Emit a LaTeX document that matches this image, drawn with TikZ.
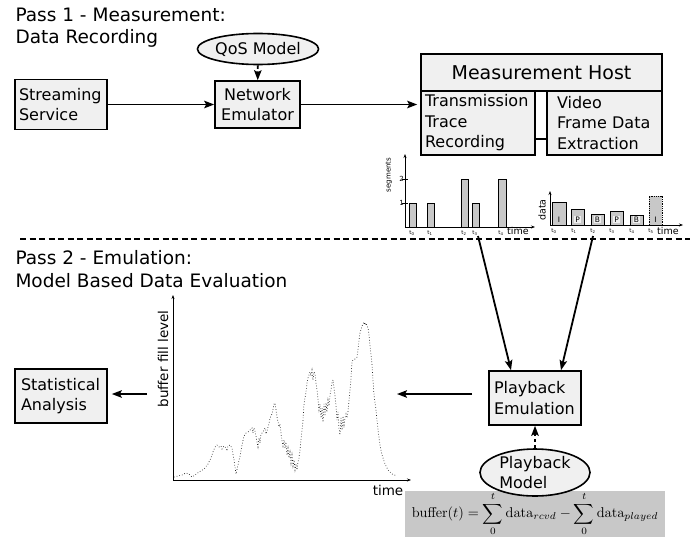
\documentclass[tikz,border=0pt]{standalone}
\usepackage[no-math]{fontspec}
\setmainfont{DejaVu Sans}
\usetikzlibrary{arrows.meta,shapes.geometric}
\definecolor{boxfill}{HTML}{F0F0F0}
\definecolor{barfill}{HTML}{C8C8C8}
\begin{document}
\begin{tikzpicture}[x=1pt,y=-1pt,
  box/.style={draw, line width=1.6pt, fill=boxfill, inner ysep=0pt, align=left,
    font=\fontsize{16}{20.5}\selectfont},
  oval/.style={draw, ellipse, line width=1.6pt, fill=boxfill, inner sep=0pt, align=left,
    font=\fontsize{16}{20.5}\selectfont},
  arr/.style={line width=1.8pt, -{Stealth[length=10pt,width=7.5pt,inset=2pt]}},
  dasharr/.style={arr, dash pattern=on 3.5pt off 2.5pt},
  title/.style={anchor=base west, font=\fontsize{18.5}{22}\selectfont},
  bar/.style={draw, line width=0.8pt, fill=barfill},
  ax/.style={line width=0.8pt, -{Stealth[length=4pt,width=3pt]}},
  tick/.style={font=\fontsize{5.5}{6}\selectfont, inner sep=0pt},
  frm/.style={font=\fontsize{7.5}{8}\selectfont, inner sep=0.8pt},
]
\useasboundingbox (0,0) rectangle (700,538);

% ---------- pass 1: measurement ----------
\node[title] (t1a) at (12,21) {Pass 1 - Measurement:};
\node[title] (t1b) at (12,43) {Data Recording};

\node[box, text width=84pt, inner xsep=4pt, minimum height=50pt] (ss) at (61,104.5)
  {Streaming\\Service};
\node[box, align=center, text width=79pt, inner xsep=3pt, minimum height=47pt] (ne) at (257.5,104.5)
  {Network\\Emulator};
\node[oval, minimum width=114pt, minimum height=31pt] (qos) at (258,49) {QoS Model};

\node[draw, line width=1.3pt, fill=boxfill, minimum width=241pt, minimum height=37pt,
  inner sep=0pt, font=\fontsize{19}{22}\selectfont] (mh) at (541.5,72.5) {Measurement Host};
\node[box, text width=106pt, inner xsep=4pt, minimum height=64pt] (tr) at (478,123)
  {Transmission\\Trace\\Recording};
\node[box, text width=95pt, inner xsep=10pt, minimum height=64pt] (vf) at (604.5,123)
  {Video\\Frame Data\\Extraction};
\draw[line width=1.6pt] ([yshift=-16pt]tr.east) -- ([yshift=-16pt]vf.west);

\draw[arr] (ss) -- (ne);
\draw[dasharr] (qos) -- (ne);
\draw[arr] (ne.east) -- ([xshift=-3pt]ne.east -| tr.west);

% segments per time slot
\draw[ax] (405,227) -- (405,154);
\draw[ax] (405,227) -- (535,227);
\draw[line width=0.6pt] (402,179) -- (408,179) (402,203) -- (408,203);
\node[tick, anchor=east, font=\fontsize{7}{7}\selectfont] at (404,179) {2};
\node[tick, anchor=east, font=\fontsize{7}{7}\selectfont] at (404,203) {1};
\node[rotate=90, inner sep=0pt, font=\fontsize{7}{7}\selectfont] at (389,175) {segments};
\draw[bar] (409,227) rectangle (416,203);
\draw[bar] (427,227) rectangle (434,203);
\draw[bar] (461,227) rectangle (468,179);
\draw[bar] (472,227) rectangle (479,203);
\draw[bar] (498,227) rectangle (506,179);
\foreach \x/\i in {412/0,430/1,464/2,475/3,501/4}
  \node[tick] at (\x,233) {t\textsubscript{\i}};
\node[anchor=west, inner sep=0pt, font=\fontsize{9.5}{10}\selectfont] at (507,231) {time};

% frame data per time slot
\draw[ax] (550,225) -- (550,191);
\draw[ax] (550,225) -- (683,225);
\node[rotate=90, inner sep=0pt, font=\fontsize{9.5}{10}\selectfont] at (542,210) {data};
\draw[bar] (552,225) rectangle (566,202);
\draw[bar] (571,225) rectangle (584,209);
\draw[bar] (591,225) rectangle (604,214);
\draw[bar] (610,225) rectangle (623,211);
\draw[bar] (630,225) rectangle (643,215);
\draw[bar, densely dotted] (649,225) rectangle (662,196);
\node[frm] at (559,219.5) {I};
\node[frm, fill=boxfill] at (577.5,219.5) {P};
\node[frm, fill=boxfill] at (597.5,219.5) {B};
\node[frm, fill=boxfill] at (616.5,219.5) {P};
\node[frm, fill=boxfill] at (636.5,219.5) {B};
\node[frm] at (655.5,219.5) {I};
\foreach \x/\i in {554/0,574/1,593/2,612/3,632/4,651/5}
  \node[tick] at (\x,231) {t\textsubscript{\i}};
\node[anchor=west, inner sep=0pt, font=\fontsize{9.5}{10}\selectfont] at (657,231) {time};

% separator between the two passes
\coordinate (sepL) at (20,239);
\coordinate (sepR) at (690,239);
\draw[line width=1.8pt, dash pattern=on 6pt off 3.5pt] (sepL) -- (sepR);

% ---------- pass 2: emulation ----------
\node[title] (t2a) at (12,264) {Pass 2 - Emulation:};
\node[title] (t2b) at (12,287) {Model Based Data Evaluation};

\node[box, text width=82pt, inner xsep=5pt, minimum height=54pt] (pe) at (535,398)
  {Playback\\Emulation};
\node[box, text width=80pt, inner xsep=6pt, minimum height=54pt] (sa) at (61,396)
  {Statistical\\Analysis};

\coordinate (segsrc) at (478,236);
\coordinate (datsrc) at (593,236);
\draw[arr] (segsrc) -- ([xshift=-24pt]pe.north);
\draw[arr] (datsrc) -- ([xshift=26pt]pe.north);

% buffer equation and playback model
\node[fill=barfill, minimum width=260pt, minimum height=46pt, inner sep=0pt] (eq) at (535,514)
  {\scalebox{1.42}{$\displaystyle \mathrm{buffer}(t)=\sum_0^t \mathrm{data}_{rcvd}-\sum_0^t \mathrm{data}_{played}$}};
\node[oval, minimum width=110pt, minimum height=47pt] (pm) at (535,472.5) {Playback\\Model};
\draw[dasharr] (pm) -- (pe);

% buffer fill level over time
\draw[line width=0.7pt, black!85, dotted] plot coordinates {
 (174,477) (178,476) (182,475) (186,473) (189,474) (192,477) (195,475) (199,472) (204,469)
 (208,464) (211,458) (213,452) (215,447) (217,445) (219,447) (221,446) (222,449) (224,446)
 (226,448) (227,451) (228,446) (230,445) (232,448) (234,460) (236,474) (238,465) (240,456)
 (242,445) (244,436) (246,433) (248,432) (250,430) (252,428) (253,433) (254,428) (255,431)
 (256,436) (257,442) (258,447) (259,438) (260,443) (261,434) (263,432) (265,428) (266,434)
 (267,431) (268,427) (269,424) (270,418) (272,414) (273,409) (274,404) (275,403) (276,410)
 (277,417) (278,422) (279,427) (280,424) (281,433) (282,441) (283,446) (284,440) (285,448)
 (286,442) (287,455) (288,448) (289,458) (290,452) (291,463) (292,455) (293,466) (294,460)
 (295,470) (296,464) (297,470) (298,462) (299,458) (300,450) (301,440) (302,430) (303,420)
 (304,404) (305,398) (306,392) (307,383) (308,378) (310,372) (311,376) (312,370) (313,380)
 (314,372) (315,374) (316,383) (317,390) (318,400) (319,410) (320,404) (321,418) (322,408)
 (323,422) (324,404) (325,416) (326,403) (327,412) (328,400) (329,406) (330,395) (331,390)
 (332,383) (333,380) (334,388) (335,396) (336,405) (337,420) (338,412) (339,428) (340,435)
 (341,418) (342,430) (343,416) (344,425) (345,418) (346,414) (347,418) (348,412) (349,400)
 (350,390) (351,378) (352,362) (353,360) (355,359) (357,357) (358,350) (359,340) (360,333)
 (362,326) (364,322) (365,325) (366,323) (368,328) (369,335) (370,345) (371,355) (372,365)
 (373,380) (374,395) (376,410) (378,430) (380,445) (382,455) (385,464) (388,470) (392,474)
 (397,476)};
\draw[ax, line width=1pt] (173,480) -- (173,295);
\draw[ax, line width=1pt] (173,480) -- (411,480);
\node[rotate=90, inner sep=0pt, font=\fontsize{13.5}{14}\selectfont] at (163,359) {buffer fill level};
\node[inner sep=0pt, font=\fontsize{13.5}{14}\selectfont] at (388,490) {time};

\coordinate (plotR) at (397,394);
\coordinate (plotL) at (147,394);
\draw[arr, shorten <=16pt] ([yshift=4pt]pe.west) -- (plotR);
\draw[arr, shorten >=4pt] (plotL) -- (plotL -| sa.east);
\end{tikzpicture}
\end{document}
